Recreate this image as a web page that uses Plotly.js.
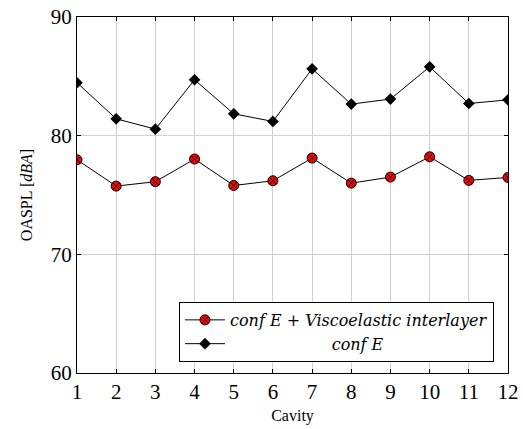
<!DOCTYPE html>
<html><head><meta charset="utf-8">
<script src="https://cdn.plot.ly/plotly-3.0.1.min.js"></script>
<style>html,body{margin:0;padding:0;background:#fff}#plot{width:523px;height:429px}</style>
</head><body><div id="plot"></div>
<script>
const cavities = [1,2,3,4,5,6,7,8,9,10,11,12];
const confEVisco = [77.97,75.75,76.12,78.03,75.8,76.2,78.11,76.0,76.51,78.22,76.23,76.48];
const confE = [84.46,81.42,80.55,84.71,81.84,81.2,85.63,82.66,83.08,85.8,82.71,83.02];
const seriesNames = ["<i>conf E + Viscoelastic interlayer</i>", "<i>conf E</i>"];
const xTicks = cavities;
const yTicks = [60,70,80,90];

const FAM = "Liberation Serif, serif";
const LFAM = "DejaVu Serif, serif";
const pad = "\u00a0".repeat(20);
const traces = [
  {x: cavities, y: confEVisco, name: seriesNames[0], mode: "lines+markers",
   line: {color: "black", width: 1},
   marker: {symbol: "circle-x", size: 10, color: "#ff0000", line: {color: "black", width: 1}}},
  {x: cavities, y: confE, name: pad + seriesNames[1], mode: "lines+markers",
   line: {color: "black", width: 1},
   marker: {symbol: "diamond", size: 9, color: "black", line: {color: "black", width: 0}}}
];
const layout = {
  width: 523, height: 429,
  margin: {l: 77, r: 15, t: 17, b: 56},
  paper_bgcolor: "white", plot_bgcolor: "white",
  font: {family: FAM, color: "black", size: 14},
  showlegend: true,
  legend: {x: 0.9675, xanchor: "right", y: 0.031, yanchor: "bottom",
    bordercolor: "black", borderwidth: 1, bgcolor: "white",
    font: {family: LFAM, size: 16, color: "black"}, tracegroupgap: 0, itemwidth: 40},
  xaxis: {range: [1, 12], tickvals: xTicks, ticktext: xTicks.map(String),
    showgrid: true, gridcolor: "#d0d0d0", gridwidth: 1,
    showline: true, linecolor: "black", linewidth: 1, mirror: "ticks",
    ticks: "inside", ticklen: 4, tickcolor: "black",
    tickfont: {size: 21, family: FAM, color: "black"}, zeroline: false,
    title: {text: "Cavity", font: {size: 16, family: FAM, color: "black"}, standoff: 6}},
  yaxis: {range: [60, 90], tickvals: yTicks, ticktext: yTicks.map(String),
    showgrid: true, gridcolor: "#d0d0d0", gridwidth: 1,
    showline: true, linecolor: "black", linewidth: 1, mirror: "ticks",
    ticks: "inside", ticklen: 4, tickcolor: "black",
    tickfont: {size: 21, family: FAM, color: "black"}, zeroline: false,
    title: {text: "OASPL [<i>dBA</i>]", font: {size: 16, family: FAM, color: "black"}, standoff: 14}}
};
Plotly.newPlot("plot", traces, layout, {displayModeBar: false, staticPlot: true});
</script></body></html>
